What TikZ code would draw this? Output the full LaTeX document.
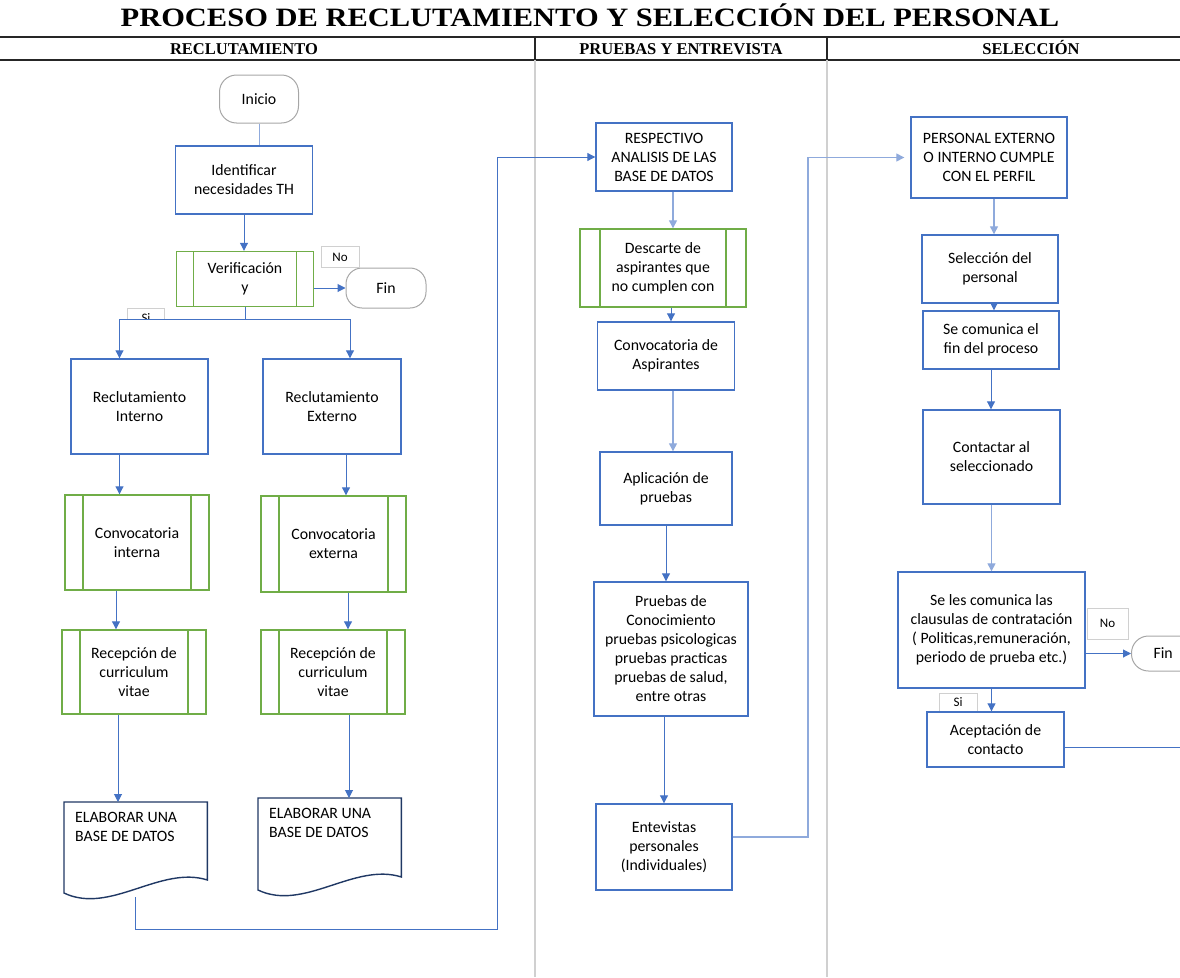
\documentclass[tikz,border=0pt]{standalone}
\usepackage{fontspec}
\setmainfont{Carlito}
\newfontfamily\titlefont[FakeStretch=1.15]{Liberation Serif}
\newfontfamily\headfont{Liberation Serif}
\usepackage{tikz}
\usetikzlibrary{calc,positioning,arrows,arrows.meta,shapes}

\definecolor{azul}{HTML}{4472C4}
\definecolor{azulclaro}{HTML}{8FAADC}
\definecolor{verde}{HTML}{70AD47}
\definecolor{gris}{HTML}{A6A6A6}
\definecolor{grisclaro}{HTML}{D0D0D0}
\definecolor{marino}{HTML}{203864}

\tikzset{
  caja/.style={draw=azul, line width=1.4pt, align=center, inner sep=2pt,
    font=\fontsize{15.8}{19}\selectfont},
  tam/.style 2 args={minimum width=#1, minimum height=#2},
  subproc/.style={caja, draw=verde, path picture={
    \draw[verde, line width=1.4pt]
      ([xshift=#1]path picture bounding box.north west) -- ([xshift=#1]path picture bounding box.south west)
      ([xshift=-#1]path picture bounding box.north east) -- ([xshift=-#1]path picture bounding box.south east);}},
  subproc/.default=18,
  terminal/.style={caja, draw=gris, line width=1pt, rounded corners=17pt},
  etiqueta/.style={draw=grisclaro, line width=1pt, inner sep=1pt, font=\fontsize{13}{15}\selectfont},
  doctexto/.style={anchor=north west, text width=121, inner xsep=11, inner ysep=10, align=flush left,
    font=\fontsize{15.8}{19}\selectfont},
  docborde/.style={draw=marino, line width=1.4pt},
  flecha/.style={->, draw=azul, line width=1pt},
  flechaclara/.style={->, draw=azulclaro, line width=1.3pt},
  linea/.style={draw=azul, line width=1pt},
  carril/.style={anchor=base, font=\headfont\bfseries\fontsize{16.5}{20}\selectfont},
  titulo/.style={anchor=base, font=\titlefont\bfseries\fontsize{26.5}{30}\selectfont}
}

\begin{document}
\begin{tikzpicture}[x=1pt, y=-1pt, >={Triangle[length=8pt,width=8pt]}]
\useasboundingbox (0,0) rectangle (1180,977);

% encabezado y carriles
\node[titulo] (tit) at (590,27) {PROCESO DE RECLUTAMIENTO Y SELECCIÓN DEL PERSONAL};
\draw[line width=1.6pt, black!85] (0,37) -- (1180,37);
\draw[line width=1.2pt, black!85] (0,60) -- (1180,60);
\draw[line width=1.2pt, black!85] (535,37) -- (535,60) (827,37) -- (827,60);
\draw[line width=1.2pt, grisclaro] (535,60) -- (535,977) (827,60) -- (827,977);
\node[carril] (c1) at (244,54) {RECLUTAMIENTO};
\node[carril] (c2) at (681,54) {PRUEBAS Y ENTREVISTA};
\node[carril] (c3) at (1031,54) {SELECCIÓN};

% reclutamiento
\node[terminal, tam={79}{48}] (ini) at (259,99) {Inicio};
\node[caja, tam={137}{68}] (ident) at (244,180) {Identificar\\necesidades TH};
\node[subproc=17, tam={137}{55}] (verif) at (245,279) {Verificación\\y};
\node[terminal, tam={80}{40}, rounded corners=16pt] (fin1) at (386,288) {Fin};
\node[etiqueta, tam={38}{21}] (no1) at (340,257) {No};
\begin{scope}
\clip (120,300) rectangle (180,319);
\node[etiqueta, tam={37}{21}] (si1) at (146,318.5) {Si};
\end{scope}
\node[caja, tam={137}{95}] (rint) at (139.5,406.5) {Reclutamiento\\Interno};
\node[caja, tam={138}{95}] (rext) at (332,406.5) {Reclutamiento\\Externo};
\node[subproc, tam={144}{95}] (cint) at (137,542.5) {Convocatoria\\interna};
\node[subproc, tam={145}{96}] (cext) at (333.5,544) {Convocatoria\\externa};
\node[subproc, tam={144}{84}] (rcv1) at (134,672) {Recepción de\\curriculum\\vitae};
\node[subproc, tam={144}{84}] (rcv2) at (333,672) {Recepción de\\curriculum\\vitae};
\node[doctexto] (db1) at (64,802) {ELABORAR UNA\\BASE DE DATOS};
\node[doctexto] (db2) at (258,798) {ELABORAR UNA\\BASE DE DATOS};
\draw[docborde] (db1.north west) -- (db1.north east) -- ++(0,78)
  .. controls +(-47,-15) and +(46,22) .. ($(db1.north west)+(0,91)$) -- cycle;
\draw[docborde] (db2.north west) -- (db2.north east) -- ++(0,79)
  .. controls +(-47,-15) and +(46,22) .. ($(db2.north west)+(0,92)$) -- cycle;

% pruebas y entrevista
\node[caja, tam={136}{68}] (resp) at (664,157) {RESPECTIVO\\ANALISIS DE LAS\\BASE DE DATOS};
\node[subproc=20, tam={166}{78}] (desc) at (663,268) {Descarte de\\aspirantes que\\no cumplen con};
\node[caja, tam={137}{68}] (conv) at (666,356) {Convocatoria de\\Aspirantes};
\node[caja, tam={132}{73}] (apl) at (666,488.5) {Aplicación de\\pruebas};
\node[caja, tam={154}{134}] (prue) at (671,649) {Pruebas de\\Conocimiento\\pruebas psicologicas\\pruebas practicas\\pruebas de salud,\\entre otras};
\node[caja, tam={136}{86}] (ent) at (664,847) {Entevistas\\personales\\(Individuales)};

% seleccion
\node[caja, tam={156}{81}] (pers) at (989,157.5) {PERSONAL EXTERNO\\O INTERNO CUMPLE\\CON EL PERFIL};
\node[caja, tam={136}{68}] (sel) at (990,269) {Selección del\\personal};
\node[caja, tam={136}{58}] (comu) at (991,340) {Se comunica el\\fin del proceso};
\node[caja, tam={137}{94}] (cont) at (991.5,457) {Contactar al\\seleccionado};
\node[caja, tam={187}{116}] (cla) at (991.5,630) {Se les comunica las\\clausulas de contratación\\( Politicas,remuneración,\\periodo de prueba etc.)};
\node[etiqueta, tam={41}{31}] (no2) at (1107.5,623.5) {No};
\node[terminal, tam={90}{35}, text width=46, align=flush left, anchor=west] (fin2) at (1131,653.5) {Fin};
\node[etiqueta, tam={38}{18}] (si2) at (958,702) {Si};
\node[caja, tam={137}{55}] (acep) at (995.5,739.5) {Aceptación de\\contacto};

\coordinate (ramal) at (245,319);
\coordinate (enlace) at (497,929);
\coordinate (enlace2) at (808,837);
\coordinate (salida) at (1180,747);

% conectores
\draw[draw=azulclaro, line width=1pt] (ini.south) -- (ini.south |- ident.north);
\draw[flecha] (ident.south) -- (ident.south |- verif.north);
\draw[flecha] (verif.east |- fin1.west) -- (fin1.west);
\draw[linea] (verif.south) -- (ramal);
\draw[flecha] (ramal) -| ([xshift=-20]rint.north);
\draw[flecha] (ramal) -| ([xshift=18]rext.north);
\draw[flecha] ([xshift=-20]rint.south) -- ([xshift=-20]rint.south |- cint.north);
\draw[flecha] ([xshift=14]rext.south) -- ([xshift=14]rext.south |- cext.north);
\draw[flecha] ([xshift=-21]cint.south) -- ([xshift=-21]cint.south |- rcv1.north);
\draw[flecha] ([xshift=14.5]cext.south) -- ([xshift=14.5]cext.south |- rcv2.north);
\draw[flecha] ([xshift=-16]rcv1.south) -- ([xshift=-16]rcv1.south |- db1.north);
\draw[flecha] ([xshift=16]rcv2.south) -- ([xshift=16]rcv2.south |- db2.north);
\draw[flecha] ($(db1.north)+(0,95)$) |- (enlace) |- (resp.west);
\draw[linea] ($(db2.north east)+(0,40)$) -- ($(db2.north east)+(0,40)$ -| enlace);

\draw[flechaclara] ([xshift=9]resp.south) -- ([xshift=9]resp.south |- desc.north);
\draw[flecha] ([xshift=8]desc.south) -- ([xshift=8]desc.south |- conv.north);
\draw[flechaclara] ([xshift=7]conv.south) -- ([xshift=7]conv.south |- apl.north);
\draw[flecha] (apl.south) -- (apl.south |- prue.north);
\draw[flecha] ([xshift=-7]prue.south) -- ([xshift=-7]prue.south |- ent.north);
\draw[flechaclara] ([yshift=10]ent.east) -- (enlace2) |- ([xshift=-6]pers.west);

\draw[flechaclara] ([xshift=5]pers.south) -- ([xshift=5]pers.south |- sel.north);
\draw[flecha] ([xshift=4]sel.south) -- ([xshift=4]sel.south |- comu.north);
\draw[flecha] (comu.south) -- (comu.south |- cont.north);
\draw[flechaclara] (cont.south) -- (cont.south |- cla.north);
\draw[flecha] (cla.east |- fin2.west) -- (fin2.west);
\draw[flecha] (cla.south) -- (cla.south |- acep.north);
\draw[linea] ([yshift=-7.5]acep.east) -- (salida);
\end{tikzpicture}
\end{document}
